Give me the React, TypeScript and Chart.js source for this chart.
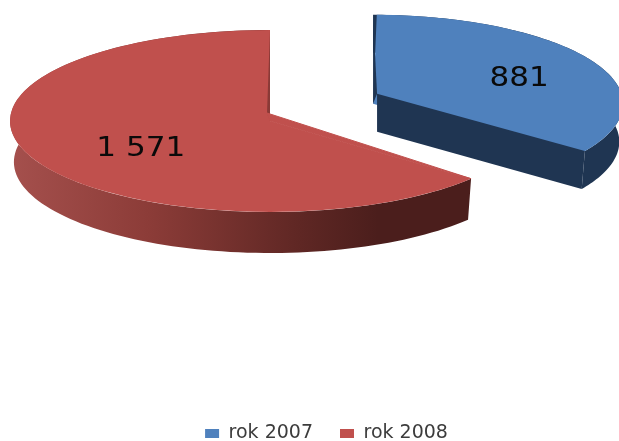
import React, { useEffect, useRef } from "react";
import { Chart, registerables } from "chart.js";

Chart.register(...registerables);

const categories = ["rok 2007", "rok 2008"];
const values = [881, 1571];
const colors = ["#4F81BD", "#C0504D"];
const edgeColors = ["#1F3552", "#8A3A37"];
const sideStops: [number, string][][] = [
  [[0, "#1F3552"], [1, "#1F3552"]],
  [[0, "#A5504D"], [0.3, "#8C3C38"], [0.63, "#5F2724"], [0.8, "#4B1E1C"], [1, "#4B1E1C"]],
];

// 3D projection style
const ORIGIN = { x: 270, y: 121 };
const TILT = 0.353;
const RX = [250, 260];
const RY = [89, 91];
const DEPTH = [38, 41];
const INSET = 0.985;
const APEX_SHIFT = [{ x: 4, y: -10 }, { x: -3, y: -8 }];
const TIP_SHIFT = [-0.127, 0];
const LABEL_R = [0.647, 0.55];
const LABEL_DY = [0, 7];
const TEXT_STRETCH = 1.15;

const fmt = (v: number) => String(v).replace(/\B(?=(\d{3})+$)/g, " ");

const geometry = (el: any, i: number) => {
  const off = (el.options.offset || 0) / 4;
  const mid = (el.startAngle + el.endAngle) / 2;
  const cx = ORIGIN.x + Math.cos(mid) * off;
  const cy = ORIGIN.y + Math.sin(mid) * off * TILT;
  const fix = 1 - Math.sin(Math.min(Math.PI, el.circumference || 0));
  const R = el.outerRadius + off * fix;
  const at = (a: number) => ({ x: cx + RX[i] * Math.cos(a), y: cy + RY[i] * Math.sin(a) });
  return { off, mid, cx, cy, R, at };
};

const poly = (ctx: CanvasRenderingContext2D, pts: { x: number; y: number }[], fill: any, seal = false) => {
  ctx.beginPath();
  pts.forEach((p, k) => (k ? ctx.lineTo(p.x, p.y) : ctx.moveTo(p.x, p.y)));
  ctx.closePath();
  ctx.fillStyle = fill;
  ctx.fill();
  if (seal) {
    ctx.strokeStyle = fill;
    ctx.lineWidth = 1;
    ctx.stroke();
  }
};

const drawLabels = (chart: any) => {
  const ctx: CanvasRenderingContext2D = chart.ctx;
  const meta = chart.getDatasetMeta(0);
  meta.data.forEach((el: any, i: number) => {
    const g = geometry(el, i);
    const p = g.at(g.mid);
    const x = g.cx + (p.x - g.cx) * LABEL_R[i];
    const y = g.cy + (p.y - g.cy) * LABEL_R[i] + LABEL_DY[i];
    ctx.save();
    ctx.translate(x, y);
    ctx.scale(TEXT_STRETCH, 1);
    ctx.font = "27px 'DejaVu Sans'";
    ctx.fillStyle = "#0a0a0a";
    ctx.textAlign = "center";
    ctx.textBaseline = "middle";
    ctx.fillText(fmt(values[i]), 0, 0);
    ctx.restore();
  });
};

const pie3d = {
  id: "pie3d",
  afterLayout(chart: any) {
    const lg = chart.legend;
    lg.left += 17;
    lg.right += 17;
    lg.top += 12;
    lg.bottom += 12;
  },
  beforeDatasetsDraw(chart: any) {
    const ctx: CanvasRenderingContext2D = chart.ctx;
    const meta = chart.getDatasetMeta(0);
    meta.data.forEach((el: any, i: number) => {
      const g = geometry(el, i);
      const D = DEPTH[i];
      const drop = (p: { x: number; y: number }) => ({ x: g.cx + (p.x - g.cx) * INSET, y: p.y + D });
      const grad = ctx.createLinearGradient(ORIGIN.x - RX[1], 0, ORIGIN.x + RX[1] * 0.77, 0);
      sideStops[i].forEach(([o, c]) => grad.addColorStop(o, c));

      const back = Math.sin(el.startAngle) < 0 ? el.startAngle : el.endAngle;
      const front = back === el.startAngle ? el.endAngle : el.startAngle;
      const tipAngle = front + TIP_SHIFT[i];
      const tip = g.at(tipAngle);

      // outer wall: one band along the rim, ending at the visible tip
      const steps = 120;
      const a0 = front === el.startAngle ? tipAngle : el.startAngle;
      const a1 = front === el.endAngle ? tipAngle : el.endAngle;
      const upper: { x: number; y: number }[] = [];
      for (let k = 0; k <= steps; k++) upper.push(g.at(a0 + ((a1 - a0) * k) / steps));
      const lower = upper.map(drop).reverse();
      poly(ctx, [...upper, ...lower], grad);

      // top face, drawn by the library's arc element
      ctx.save();
      ctx.translate(g.cx, g.cy);
      ctx.scale(RX[i] / g.R, RY[i] / g.R);
      ctx.translate(-(el.x + Math.cos(g.mid) * g.off), -(el.y + Math.sin(g.mid) * g.off));
      el.draw(ctx);
      ctx.restore();

      // apex correction and cut faces
      const apex = { x: g.cx + APEX_SHIFT[i].x, y: g.cy + APEX_SHIFT[i].y };
      const centre = { x: g.cx, y: g.cy };
      poly(ctx, [g.at(back), apex, centre], edgeColors[i]);
      if (front === el.endAngle) {
        poly(ctx, [apex, tip, { x: drop(tip).x, y: tip.y + D }, { x: apex.x, y: apex.y + D }], edgeColors[i]);
      } else {
        poly(ctx, [apex, tip, g.at(front), centre], colors[i], true);
      }
    });
    drawLabels(chart);
    return false;
  },
};

export default function App() {
  const ref = useRef<HTMLCanvasElement>(null);
  useEffect(() => {
    document.body.style.margin = "0";
    const chart = new Chart(ref.current!, {
      type: "pie",
      data: {
        labels: categories,
        datasets: [
          {
            data: values,
            backgroundColor: colors,
            borderWidth: 0,
            offset: [456, 0],
            radius: 250,
          } as any,
        ],
      },
      options: {
        responsive: false,
        animation: false,
        cutout: "0%",
        plugins: {
          tooltip: { enabled: false },
          legend: {
            position: "bottom",
            labels: {
              boxWidth: 14,
              boxHeight: 9,
              padding: 27,
              color: "#3c3c3c",
              font: { family: "'DejaVu Sans'", size: 19 },
            },
          },
        },
      } as any,
      plugins: [pie3d as any],
    });
    return () => chart.destroy();
  }, []);
  return (
    <div style={{ width: 619, height: 441, overflow: "hidden" }}>
      <canvas ref={ref} width={619} height={441} style={{ display: "block" }} />
    </div>
  );
}
